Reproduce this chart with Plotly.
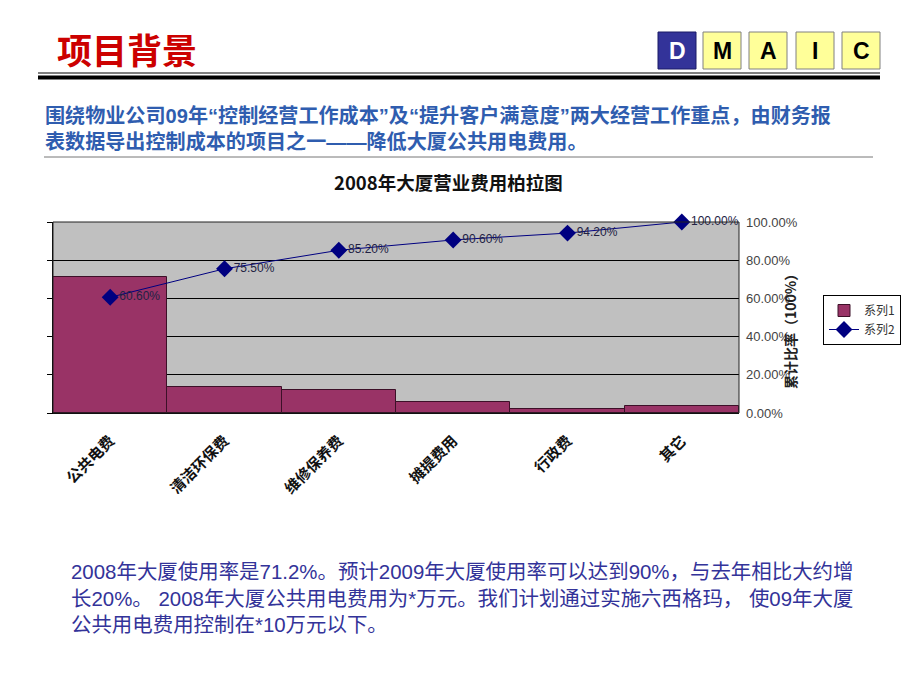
import plotly.graph_objects as go

W, H = 920, 690

# ---- data ----
categories = ["公共电费", "清洁环保费", "维修保养费", "摊提费用", "行政费", "其它"]
cost_values = [71.2, 13.6, 12.0, 5.8, 2.1, 3.7]
cumulative_pct = [0.606, 0.755, 0.852, 0.906, 0.942, 1.000]
pct_labels = ["60.60%", "75.50%", "85.20%", "90.60%", "94.20%", "100.00%"]
right_tickvals = [0, 0.2, 0.4, 0.6, 0.8, 1.0]
right_ticktext = ["0.00%", "20.00%", "40.00%", "60.00%", "80.00%", "100.00%"]
series_names = ["系列1", "系列2"]
dmaic_letters = ["D", "M", "A", "I", "C"]

header_title = "项目背景"
sub_lines = ["围绕物业公司09年“控制经营工作成本”及“提升客户满意度”两大经营工作重点，由财务报",
             "表数据导出控制成本的项目之一——降低大厦公共用电费用。"]
body_lines = ["2008年大厦使用率是71.2%。预计2009年大厦使用率可以达到90%，与去年相比大约增",
              "长20%。 2008年大厦公共用电费用为*万元。我们计划通过实施六西格玛， 使09年大厦",
              "公共用电费用控制在*10万元以下。"]
chart_title = "2008年大厦营业费用柏拉图"
right_axis_title = "累计比率（100%）"


def px(x):
    return x / W


def py(y):
    return 1 - y / H


CJK = "Noto Sans CJK SC"
MIX = "Liberation Sans, Arial, Noto Sans CJK SC"

fig = go.Figure()
fig.add_bar(
    x=categories, y=cost_values, name=series_names[0],
    marker=dict(color="#993366", line=dict(color="#3d1028", width=1)),
    yaxis="y", xaxis="x",
)
fig.add_scatter(
    x=categories, y=cumulative_pct, yaxis="y2", xaxis="x",
    name=series_names[1], mode="lines+markers+text",
    text=pct_labels, textposition="middle right",
    textfont=dict(family="Arial, Liberation Sans", size=12, color="#222244"),
    line=dict(color="#000080", width=1),
    marker=dict(symbol="diamond", size=13, color="#000080"),
    cliponaxis=False,
)

shapes = []
# plot-area border
shapes.append(dict(type="rect", xref="paper", yref="paper",
                   x0=px(53), x1=px(739), y0=py(413), y1=py(222),
                   line=dict(color="#222222", width=1), layer="above"))
# header lines
shapes.append(dict(type="line", xref="paper", yref="paper",
                   x0=px(38), x1=px(880), y0=py(73), y1=py(73),
                   line=dict(color="#000000", width=1)))
shapes.append(dict(type="line", xref="paper", yref="paper",
                   x0=px(38), x1=px(880), y0=py(77.5), y1=py(77.5),
                   line=dict(color="#000000", width=4)))
shapes.append(dict(type="line", xref="paper", yref="paper",
                   x0=px(44), x1=px(873), y0=py(157), y1=py(157),
                   line=dict(color="#777777", width=1)))

annotations = []
# DMAIC boxes
box_x = [658, 703, 749, 796, 842]
for i, letter in enumerate(dmaic_letters):
    x0 = box_x[i]
    x1 = x0 + 38
    if i == 0:
        fill, border, tcol = "#333399", "#1a1a66", "#ffffff"
    else:
        fill, border, tcol = "#FFFF99", "#808080", "#000000"
    shapes.append(dict(type="rect", xref="paper", yref="paper",
                       x0=px(x0), x1=px(x1), y0=py(69), y1=py(32),
                       fillcolor=fill, line=dict(color=border, width=1)))
    annotations.append(dict(text=letter, xref="paper", yref="paper",
                            x=px((x0 + x1) / 2), y=py(51), xanchor="center", yanchor="middle",
                            showarrow=False,
                            font=dict(family="Arial, Liberation Sans", size=23, color=tcol, weight="bold")))

annotations.append(dict(text=header_title, xref="paper", yref="paper",
                        x=px(55), y=py(48), xanchor="left", yanchor="middle", showarrow=False,
                        font=dict(family=CJK, size=35, color="#CC0000", weight="bold")))
annotations.append(dict(text="<br>".join(sub_lines), xref="paper", yref="paper",
                        x=px(43), y=py(128), xanchor="left", yanchor="middle", align="left",
                        showarrow=False,
                        font=dict(family=MIX, size=20.1, color="#2F5DAF", weight="bold")))
annotations.append(dict(text="<br>".join(body_lines), xref="paper", yref="paper",
                        x=px(69), y=py(598), xanchor="left", yanchor="middle", align="left",
                        showarrow=False,
                        font=dict(family=MIX, size=20.45, color="#333399")))
annotations.append(dict(text=chart_title, xref="paper", yref="paper",
                        x=px(448), y=py(182), xanchor="center", yanchor="middle", showarrow=False,
                        font=dict(family=CJK, size=18.5, color="#111111", weight="bold")))
annotations.append(dict(text=right_axis_title, xref="paper", yref="paper",
                        x=px(790), y=py(328), xanchor="center", yanchor="middle", showarrow=False,
                        textangle=-90,
                        font=dict(family=CJK, size=14, color="#222222", weight="bold")))

fig.update_layout(
    template="none",
    width=W, height=H,
    margin=dict(l=0, r=0, t=0, b=0),
    paper_bgcolor="#ffffff",
    plot_bgcolor="#C0C0C0",
    bargap=0,
    showlegend=True,
    legend=dict(x=px(823), y=py(295), xanchor="left", yanchor="top",
                bgcolor="#ffffff", bordercolor="#000000", borderwidth=1,
                font=dict(family=CJK, size=12, color="#333333"),
                tracegroupgap=0, itemwidth=30),
    xaxis=dict(domain=[px(53), px(739)], anchor="y", automargin=False,
               tickangle=-45, showline=True, linecolor="#000000", ticks="",
               ticklabelstandoff=12,
               tickfont=dict(family=CJK, size=15, color="#111111", weight="bold"),
               showgrid=False, zeroline=False),
    yaxis=dict(domain=[py(413), py(222)], anchor="x", automargin=False,
               range=[0, 100], dtick=20, showticklabels=False,
               ticks="outside", ticklen=5, tickcolor="#000000",
               showgrid=True, gridcolor="#000000", gridwidth=1,
               showline=True, linecolor="#000000", zeroline=False),
    yaxis2=dict(overlaying="y", side="right", anchor="x", automargin=False,
                range=[0, 1], tickvals=right_tickvals, ticktext=right_ticktext,
                showgrid=False, zeroline=False, showline=False, ticks="",
                ticklabelstandoff=6,
                tickfont=dict(family="Arial, Liberation Sans", size=13, color="#444444")),
    shapes=shapes,
    annotations=annotations,
)

fig.write_html("out.html", config={"displayModeBar": False},
               post_script="document.body.style.margin='0';document.body.style.padding='0';")
